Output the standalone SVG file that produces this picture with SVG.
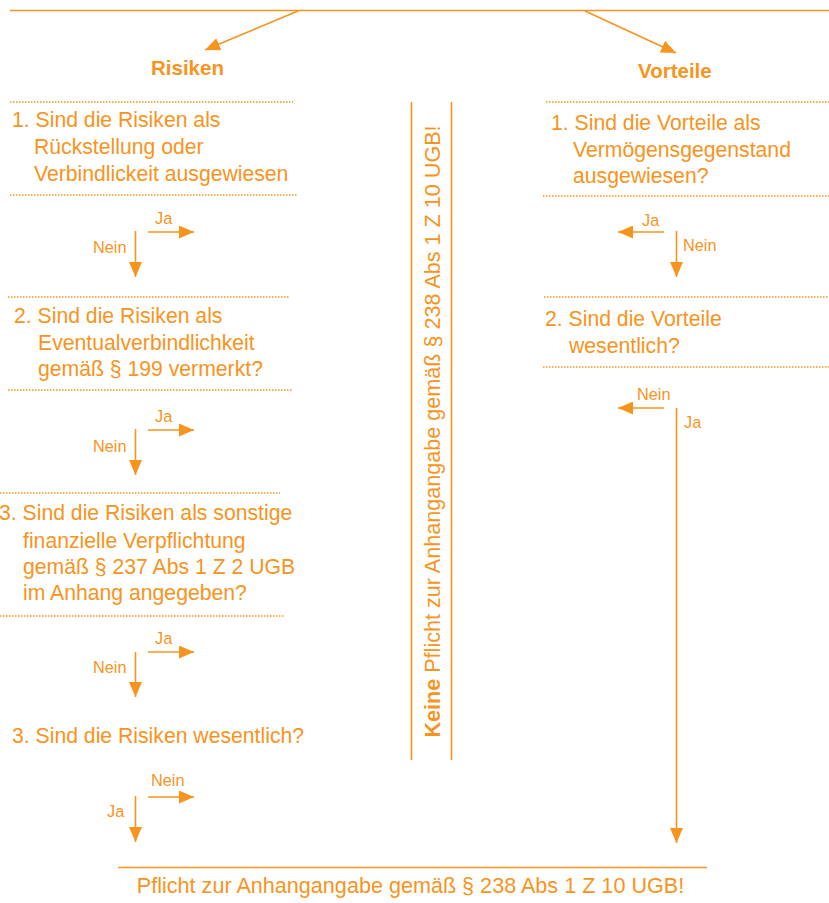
<svg xmlns="http://www.w3.org/2000/svg" width="829" height="903" viewBox="0 0 829 903">
<style>
.t{font-family:"Liberation Sans",Arial,sans-serif;font-size:21.2px;fill:#F7941D}
.b{font-weight:bold;font-size:20.5px}
.w{font-size:21.6px}
.s{font-family:"Liberation Sans",Arial,sans-serif;font-size:16.3px;fill:#F7941D}
.ln{stroke:#F7941D;stroke-width:1.6;fill:none}
.dot{stroke:#F7941D;stroke-width:1.5;stroke-dasharray:1.5 1.5;fill:none}
.ar{stroke:#F7941D;stroke-width:1.6;fill:none;marker-end:url(#ah)}
</style>
<defs>
<marker id="ah" markerUnits="userSpaceOnUse" markerWidth="16" markerHeight="13" refX="15" refY="6.5" orient="auto">
<path d="M0,0 L15,6.5 L0,13 Z" fill="#F7941D"/>
</marker>
</defs>
<rect width="829" height="903" fill="#ffffff"/>
<g id="connectors">
<line class="ln" x1="10" y1="10.5" x2="829" y2="10.5"/>
<line class="ar" x1="298" y1="11" x2="205" y2="50"/>
<line class="ar" x1="585" y1="11" x2="676" y2="53"/>
<line class="ar" x1="148" y1="232" x2="194" y2="232"/>
<line class="ar" x1="135.5" y1="231" x2="135.5" y2="277"/>
<line class="ar" x1="148" y1="430" x2="194" y2="430"/>
<line class="ar" x1="135.5" y1="429" x2="135.5" y2="475"/>
<line class="ar" x1="148" y1="652" x2="194" y2="652"/>
<line class="ar" x1="135.5" y1="652" x2="135.5" y2="697"/>
<line class="ar" x1="148" y1="797" x2="194" y2="797"/>
<line class="ar" x1="135.5" y1="796" x2="135.5" y2="842"/>
<line class="ar" x1="664" y1="232" x2="618" y2="232"/>
<line class="ar" x1="676.5" y1="231" x2="676.5" y2="277"/>
<line class="ar" x1="664" y1="408" x2="618" y2="408"/>
<line class="ar" x1="676.5" y1="408" x2="676.5" y2="843"/>
</g>
<g id="risiken">
<text class="t b" x="151" y="75">Risiken</text>
</g>
<g id="vorteile">
<text class="t b" x="638" y="78">Vorteile</text>
</g>
<g id="r1">
<line class="dot" x1="10" y1="102" x2="293" y2="102"/>
<text class="t" x="12" y="127">1. Sind die Risiken als</text>
<text class="t" x="34" y="154">Rückstellung oder</text>
<text class="t" x="34" y="181">Verbindlickeit ausgewiesen</text>
<line class="dot" x1="10" y1="195" x2="297" y2="195"/>
<text class="s" x="155" y="224">Ja</text>
<text class="s" x="93" y="253">Nein</text>
</g>
<g id="r2">
<line class="dot" x1="8" y1="297" x2="289" y2="297"/>
<text class="t" x="14" y="323">2. Sind die Risiken als</text>
<text class="t" x="38" y="350">Eventualverbindlichkeit</text>
<text class="t" x="38" y="376">gemäß § 199 vermerkt?</text>
<line class="dot" x1="8" y1="390" x2="293" y2="390"/>
<text class="s" x="155" y="422">Ja</text>
<text class="s" x="93" y="452">Nein</text>
</g>
<g id="r3">
<line class="dot" x1="0" y1="493" x2="280" y2="493"/>
<text class="t" x="-1" y="520">3. Sind die Risiken als sonstige</text>
<text class="t" x="23" y="548">finanzielle Verpflichtung</text>
<text class="t" x="23" y="574">gemäß § 237 Abs 1 Z 2 UGB</text>
<text class="t" x="23" y="600">im Anhang angegeben?</text>
<line class="dot" x1="0" y1="616" x2="284" y2="616"/>
<text class="s" x="155" y="644">Ja</text>
<text class="s" x="93" y="673">Nein</text>
</g>
<g id="r4">
<text class="t" x="12" y="743">3. Sind die Risiken wesentlich?</text>
<text class="s" x="151" y="786">Nein</text>
<text class="s" x="107" y="817">Ja</text>
</g>
<g id="v1">
<line class="dot" x1="546" y1="102" x2="829" y2="102"/>
<text class="t" x="551" y="130">1. Sind die Vorteile als</text>
<text class="t" x="573" y="157">Vermögensgegenstand</text>
<text class="t" x="573" y="183">ausgewiesen?</text>
<line class="dot" x1="543" y1="196" x2="829" y2="196"/>
<text class="s" x="642" y="226">Ja</text>
<text class="s" x="683" y="251">Nein</text>
</g>
<g id="v2">
<line class="dot" x1="544" y1="297" x2="829" y2="297"/>
<text class="t" x="545" y="326">2. Sind die Vorteile</text>
<text class="t" x="569" y="353">wesentlich?</text>
<line class="dot" x1="543" y1="367" x2="829" y2="367"/>
<text class="s" x="637" y="400">Nein</text>
<text class="s" x="684" y="428">Ja</text>
</g>
<g id="keine">
<line class="ln" x1="411.5" y1="102" x2="411.5" y2="760"/>
<line class="ln" x1="451.5" y1="102" x2="451.5" y2="760"/>
<text class="t w" transform="translate(440,431.5) rotate(-90)" text-anchor="middle"><tspan font-weight="bold">Keine</tspan> Pflicht zur Anhangangabe gemäß § 238 Abs 1 Z 10 UGB!</text>
</g>
<g id="pflicht">
<line class="ln" x1="118" y1="867.5" x2="707" y2="867.5"/>
<text class="t w" x="410.5" y="893" text-anchor="middle">Pflicht zur Anhangangabe gemäß § 238 Abs 1 Z 10 UGB!</text>
</g>
</svg>
